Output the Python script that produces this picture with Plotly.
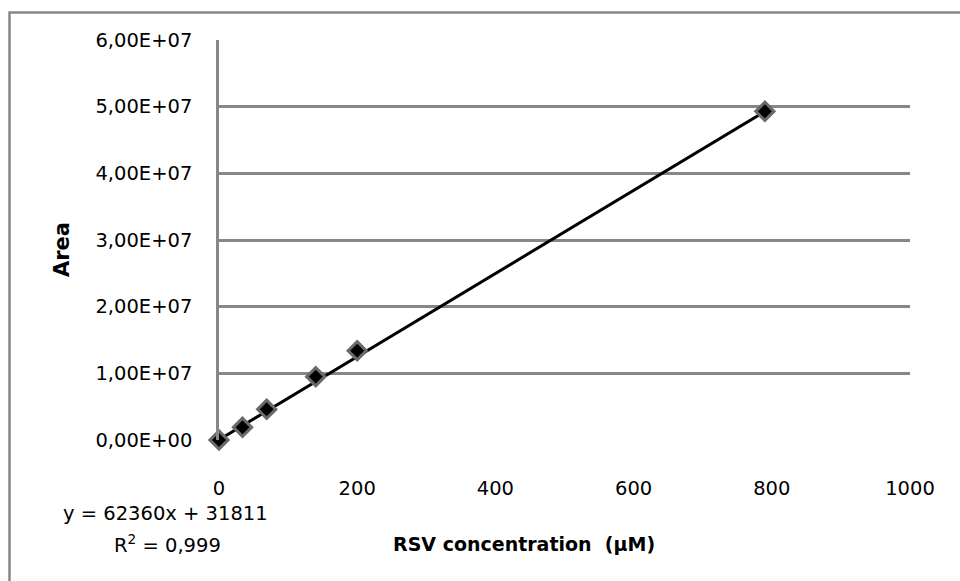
import plotly.graph_objects as go

# Data
conc = [0, 34, 69, 140, 200, 790]
area = [0, 1.9e6, 4.6e6, 9.5e6, 1.34e7, 4.93e7]
slope = 62360
intercept = 31811
r2_text = "0,999"
y_ticks = [0, 1e7, 2e7, 3e7, 4e7, 5e7, 6e7]
y_tick_labels = ["0,00E+00", "1,00E+07", "2,00E+07", "3,00E+07", "4,00E+07", "5,00E+07", "6,00E+07"]
x_ticks = [0, 200, 400, 600, 800, 1000]

trend_x = [min(conc), max(conc)]
trend_y = [slope * v + intercept for v in trend_x]

grid = "#878787"
fig = go.Figure()
fig.add_trace(go.Scatter(x=trend_x, y=trend_y, mode="lines",
                         line=dict(color="black", width=3), cliponaxis=False,
                         showlegend=False, hoverinfo="skip"))
fig.add_trace(go.Scatter(x=conc, y=area, mode="markers",
                         marker=dict(symbol="diamond", size=14, color="black",
                                     line=dict(color="#6a6a6a", width=3)),
                         cliponaxis=False, showlegend=False))

fig.update_layout(
    width=960, height=581,
    margin=dict(l=219, r=50, t=40, b=141),
    paper_bgcolor="white", plot_bgcolor="white",
    font=dict(family="DejaVu Sans", size=16, color="black"),
    xaxis=dict(range=[0, 1000], tickvals=x_ticks, showgrid=False, zeroline=False,
               showline=False, ticks="", ticklen=0, ticklabelstandoff=34,
               tickfont=dict(family="DejaVu Sans", size=19.5)),
    yaxis=dict(range=[0, 6e7], tickvals=y_ticks, ticktext=y_tick_labels,
               showgrid=True, gridcolor=grid, gridwidth=2.5, zeroline=False,
               showline=True, linecolor=grid, linewidth=2.5, ticks="",
               ticklabelstandoff=20,
               tickfont=dict(family="DejaVu Sans", size=19.5)),
    showlegend=False,
)

def px_x(p):
    return (p - 219) / 691

def px_y(p):
    return (440 - p) / 400

# axis titles
fig.add_annotation(xref="paper", yref="paper", x=px_x(62), y=px_y(250),
                   xanchor="center", yanchor="middle",
                   text="<b>Area</b>", textangle=-90, showarrow=False,
                   font=dict(family="DejaVu Sans", size=21))
fig.add_annotation(xref="paper", yref="paper", x=px_x(524), y=px_y(544),
                   xanchor="center", yanchor="middle",
                   text="<b>RSV concentration  (μM)</b>", showarrow=False,
                   font=dict(family="DejaVu Sans", size=19))
# trendline equation
fig.add_annotation(xref="paper", yref="paper", x=px_x(165), y=px_y(513),
                   xanchor="center", yanchor="middle",
                   text=f"y = {slope}x + {intercept}", showarrow=False,
                   font=dict(family="DejaVu Sans", size=19.5))
fig.add_annotation(xref="paper", yref="paper", x=px_x(167), y=px_y(544),
                   xanchor="center", yanchor="middle",
                   text=f"R<sup>2</sup> = {r2_text}", showarrow=False,
                   font=dict(family="DejaVu Sans", size=19.5))

# outer chart border
fig.add_shape(type="rect", xref="paper", yref="paper",
              x0=px_x(9.5), y0=px_y(700), x1=px_x(1100), y1=px_y(12.5),
              line=dict(color=grid, width=2.5), layer="below")

fig.write_html("out.html")
